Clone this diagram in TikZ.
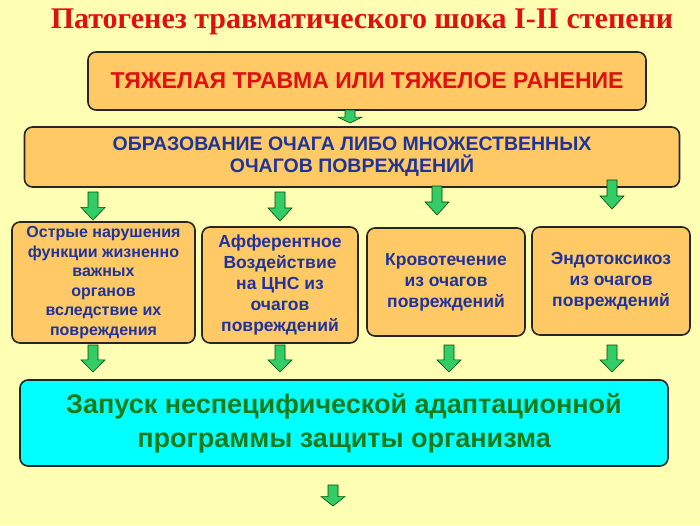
\documentclass[tikz,border=0pt]{standalone}
\usepackage{fontspec}
\setmainfont{Liberation Serif}
\newfontfamily\sansb{Liberation Sans}
\definecolor{bg}{HTML}{FFFFB3}
\definecolor{boxo}{HTML}{FFC966}
\definecolor{tblue}{HTML}{1F3399}
\definecolor{tred}{HTML}{E01010}
\definecolor{tgreen}{HTML}{1A7A1A}
\definecolor{arrg}{HTML}{33CC66}
\definecolor{cy}{HTML}{00FFFF}
\newcommand\garr[3]{\fill[arrg,draw=black!70!green,line width=0.6pt] (#1-5,#2)--(#1+5,#2)--(#1+5,{#2+0.55*(#3-#2)})--(#1+12,{#2+0.55*(#3-#2)})--(#1,#3)--(#1-12,{#2+0.55*(#3-#2)})--(#1-5,{#2+0.55*(#3-#2)})--cycle;}
\tikzset{ob/.style={draw=black!85,line width=1.6pt,fill=boxo,rounded corners=8pt,align=center,font=\sansb\bfseries}}
\begin{document}
\begin{tikzpicture}[x=1pt,y=-1pt]
\fill[bg] (0,0) rectangle (700,525);
\useasboundingbox (0,0) rectangle (700,525);
\node[text=tred,font=\fontsize{30}{34}\selectfont\bfseries] (title) at (362,22) {Патогенез травматического шока I-II степени};
\node[ob,minimum width=558pt,minimum height=58pt,text=tred,font=\sansb\bfseries\fontsize{23}{26}\selectfont] (b1) at (367,81) {ТЯЖЕЛАЯ ТРАВМА ИЛИ ТЯЖЕЛОЕ РАНЕНИЕ};
\garr{350}{110}{123}
\node[ob,minimum width=655pt,minimum height=60pt,text=tblue,font=\sansb\bfseries\fontsize{19.5}{22}\selectfont] (b2) at (352,157) {ОБРАЗОВАНИЕ ОЧАГА ЛИБО МНОЖЕСТВЕННЫХ\\ОЧАГОВ ПОВРЕЖДЕНИЙ};
\garr{93}{192}{220}
\garr{280}{192}{221}
\garr{437}{186}{215}
\garr{612}{180}{209}
\tikzset{sb/.style={ob,text=tblue,font=\sansb\bfseries\fontsize{17.5}{21}\selectfont,inner sep=1pt}}
\node[sb,minimum width=183pt,minimum height=121pt,font=\sansb\bfseries\fontsize{16}{19.5}\selectfont] (c1) at (103.5,282.5) {Острые нарушения\\функции жизненно\\важных\\органов\\вследствие их\\повреждения};
\node[sb,minimum width=156pt,minimum height=116pt] (c2) at (280,285) {Афферентное\\ Воздействие\\ на ЦНС из\\ очагов\\ повреждений};
\node[sb,minimum width=158pt,minimum height=108pt] (c3) at (446,282) {Кровотечение\\ из очагов\\ повреждений};
\node[sb,minimum width=158pt,minimum height=108pt] (c4) at (611,281) {Эндотоксикоз\\ из очагов\\ повреждений};
\garr{93}{345}{372}
\garr{280}{345}{372}
\garr{449}{345}{372}
\garr{612}{345}{372}
\node[ob,fill=cy,minimum width=648pt,minimum height=86pt,text=tgreen,font=\sansb\bfseries\fontsize{27}{34}\selectfont] (big) at (344,423) {Запуск неспецифической адаптационной\\программы защиты организма};
\garr{333}{485}{506}
\end{tikzpicture}
\end{document}
